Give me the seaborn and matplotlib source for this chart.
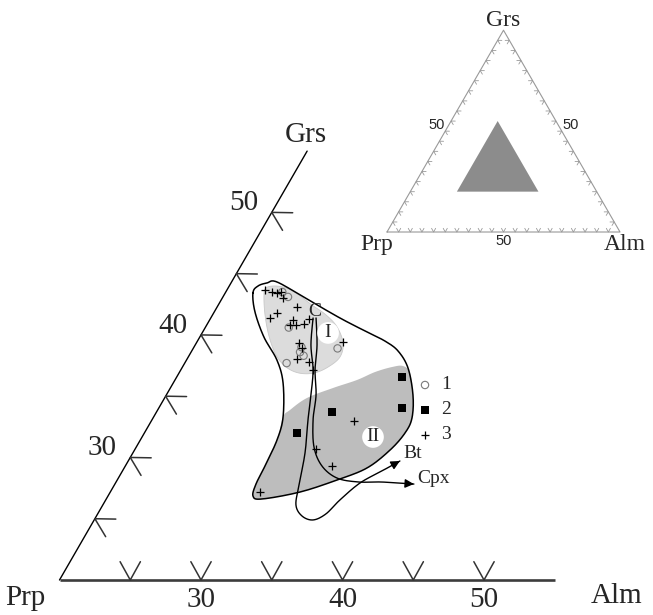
import numpy as np
import pandas as pd
import matplotlib
matplotlib.use("Agg")
import matplotlib.pyplot as plt
import seaborn as sns

# ---------------- garnet compositions (mol. %, Prp = 100 - Alm - Grs) ----------------
# 1: open circles
circle_alm = [24.6, 24.0, 25.9, 27.7, 28.1, 27.6, 27.2, 30.2]
circle_grs = [43.1, 43.5, 40.6, 38.6, 38.3, 39.0, 37.7, 38.9]
# 2: filled squares
square_alm = [35.9, 37.2, 32.4, 30.8]
square_grs = [36.6, 34.0, 33.7, 32.0]
# 3: crosses
cross_alm = [22.7, 23.3, 23.7, 23.9, 24.3, 25.6, 24.5, 24.2, 25.9, 25.9, 26.3, 26.8,
             27.0, 27.3, 27.7, 27.8, 28.7, 29.4, 30.3, 34.3, 32.8, 34.6, 30.6]
cross_grs = [43.7, 43.5, 43.4, 43.5, 43.0, 42.3, 41.8, 41.4, 41.2, 40.8, 40.8, 40.9,
             41.3, 39.3, 38.9, 38.0, 37.8, 37.1, 39.4, 33.0, 30.7, 29.3, 27.2]

# envelope of all analyses
env_alm = [21.96, 22.03, 22.54, 23.21, 26.02, 29.13, 31.61, 33.25, 34.58, 35.98, 37.43,
           38.30, 38.42, 38.06, 37.16, 35.53, 33.41, 31.00, 30.25, 29.97, 29.87, 29.66,
           29.15, 27.76, 26.39, 24.53, 22.88]
env_grs = [43.42, 43.99, 44.24, 44.32, 42.93, 41.38, 40.24, 39.50, 38.69, 37.30, 35.10,
           33.22, 32.00, 30.61, 29.14, 28.16, 27.18, 26.61, 26.85, 27.83, 29.30, 31.42,
           33.30, 36.08, 37.95, 39.83, 41.87]

# field I (core compositions)
field1_alm = [22.86, 22.67, 23.30, 24.35, 25.41, 26.62, 28.02, 29.29, 30.37, 30.72, 30.29,
              29.54, 28.48, 27.32, 26.12, 24.85, 23.71]
field1_grs = [43.18, 43.83, 43.99, 43.75, 43.18, 42.44, 41.63, 40.65, 39.34, 38.20, 37.38,
              36.89, 36.89, 37.38, 38.36, 39.91, 41.63]

# field II: upper boundary; the lower boundary follows the envelope
field2_top_alm = [29.35, 30.06, 31.50, 32.86, 33.81, 34.81, 35.55, 36.32]
field2_top_grs = [33.87, 34.85, 35.67, 36.32, 36.97, 37.38, 37.46, 36.89]

# zoning trends from core C towards Bt and Cpx contacts
bt_alm = [27.23, 28.18, 29.35, 30.22, 31.03, 32.17, 33.05, 33.65, 34.53, 35.47, 36.13,
          36.55, 37.28, 38.34, 39.20]
bt_grs = [41.38, 39.18, 37.14, 35.10, 33.06, 30.36, 27.75, 26.12, 25.22, 24.90, 25.39,
          26.53, 27.92, 28.90, 29.71]
cpx_alm = [27.44, 28.61, 29.49, 30.58, 31.39, 32.56, 33.90, 35.45, 37.10, 38.65, 39.89, 41.13]
cpx_grs = [41.38, 39.18, 37.14, 35.10, 33.06, 30.85, 29.30, 28.32, 28.00, 28.00, 27.92, 27.83]

# diagram window and axis ticks
window = [20, 55]
tick_values = [25, 30, 35, 40, 45, 50]
tick_labels = ["", "30", "", "40", "", "50"]
legend_labels = ["1", "2", "3"]

SIN60 = np.sqrt(3) / 2


def tern(alm, grs):
    alm = np.asarray(alm, float)
    grs = np.asarray(grs, float)
    return alm + 0.5 * grs, SIN60 * grs


def smooth(x, y, closed=False, n=14):
    pts = np.column_stack([x, y])
    if closed:
        P = np.vstack([pts[-1], pts, pts[0], pts[1]])
    else:
        P = np.vstack([pts[0], pts, pts[-1]])
    t = np.linspace(0, 1, n, endpoint=False)[:, None]
    out = []
    for i in range(1, len(P) - 2):
        p0, p1, p2, p3 = P[i - 1], P[i], P[i + 1], P[i + 2]
        out.append(0.5 * (2 * p1 + (-p0 + p2) * t + (2 * p0 - 5 * p1 + 4 * p2 - p3) * t ** 2
                          + (-p0 + 3 * p1 - 3 * p2 + p3) * t ** 3))
    out.append(P[-2][None, :])
    arr = np.vstack(out)
    return arr[:, 0], arr[:, 1]


def vtick(ax, x0, y0, rot, length, **kw):
    a1 = np.deg2rad(90 - 29 + rot)
    a2 = np.deg2rad(90 + 29 + rot)
    ax.plot([x0 + length * np.cos(a1), x0, x0 + length * np.cos(a2)],
            [y0 + length * np.sin(a1), y0, y0 + length * np.sin(a2)], **kw)


sns.set_style("white")
plt.rcParams["font.family"] = ["Liberation Serif", "DejaVu Serif"]

fig = plt.figure(figsize=(6.53, 6.15), dpi=100)
ax = fig.add_axes([0, 0, 1, 1])
ax.set_xlim(25.795, 71.943)
ax.set_ylim(14.847, 58.310)
ax.axis("off")


def px2data(xp, yp):
    return 25.795 + xp / 14.15, 58.310 - yp / 14.15


lo, hi = window
# axes of the triangle
bx, by = tern([lo, hi], [lo, lo])
ax.plot(bx, by, color="#3c3c3c", lw=1.9, solid_capstyle="butt", zorder=2)
lx, ly = tern([lo, lo], [lo, hi])
ax.plot(lx, ly, color="black", lw=1.0, zorder=2)

for v, lab in zip(tick_values, tick_labels):
    x0, y0 = tern(v, lo)
    vtick(ax, x0, y0, 0, 1.48, color="#333333", lw=1.1, zorder=2)
    if lab:
        ax.annotate(lab, (x0, y0), xytext=(0, -20), textcoords="offset pixels",
                    ha="center", va="center", fontsize=21)
    x0, y0 = tern(lo, v)
    vtick(ax, x0, y0, -120, 1.48, color="#333333", lw=1.1, zorder=2)
    if lab:
        ax.annotate(lab, (x0, y0), xytext=(-28, 9), textcoords="offset pixels",
                    ha="center", va="center", fontsize=21)

ax.annotate("Prp", tern(lo, lo), xytext=(-34, -18), textcoords="offset pixels",
            ha="center", va="center", fontsize=21)
ax.annotate("Alm", tern(hi, lo), xytext=(62, -16), textcoords="offset pixels",
            ha="center", va="center", fontsize=21)
ax.annotate("Grs", tern(lo, hi), xytext=(-1, 16), textcoords="offset pixels",
            ha="center", va="center", fontsize=21)

# composition fields
f2_alm = field2_top_alm + env_alm[10:23]
f2_grs = field2_top_grs + env_grs[10:23]
fx, fy = smooth(*tern(f2_alm, f2_grs), closed=True)
ax.fill(fx, fy, color="#bdbdbd", lw=0, zorder=1)

fx, fy = smooth(*tern(field1_alm, field1_grs), closed=True)
ax.fill(fx, fy, facecolor="#dcdcdc", edgecolor="#c8c8c8", lw=0.6, zorder=1)

ex, ey = smooth(*tern(env_alm, env_grs), closed=True)
ax.plot(ex, ey, color="black", lw=1.1, zorder=2)

# zoning trends
for a, g in ((bt_alm, bt_grs), (cpx_alm, cpx_grs)):
    tx, ty = smooth(*tern(a, g))
    ax.plot(tx, ty, color="black", lw=1.0, zorder=3)
    ax.annotate("", xy=(tx[-1], ty[-1]), xytext=(tx[-4], ty[-4]),
                arrowprops=dict(arrowstyle="-|>", color="black", lw=1.0,
                                mutation_scale=13, shrinkA=0, shrinkB=0), zorder=3)

# analyses
x, y = tern(circle_alm, circle_grs)
sns.scatterplot(data=pd.DataFrame({"X": x, "Y": y}), x="X", y="Y", ax=ax, marker="o", s=28,
                facecolor="none", edgecolor="#7a7a7a", linewidth=0.8, zorder=4, legend=False)
x, y = tern(square_alm, square_grs)
sns.scatterplot(data=pd.DataFrame({"X": x, "Y": y}), x="X", y="Y", ax=ax, marker="s", s=34,
                color="black", linewidth=0, zorder=4, legend=False)
x, y = tern(cross_alm, cross_grs)
sns.scatterplot(data=pd.DataFrame({"X": x, "Y": y}), x="X", y="Y", ax=ax, marker="+", s=40,
                color="black", linewidth=0.9, zorder=4, legend=False)

# labels inside the fields
ax.text(*tern(27.08, 41.95), "C", ha="center", va="center", fontsize=14, zorder=5)
ax.text(*tern(28.90, 40.16), "I", ha="center", va="center", fontsize=14, zorder=5,
        bbox=dict(boxstyle="circle,pad=0.12", fc="white", ec="none"))
ax.text(*tern(36.32, 31.67), "II", ha="center", va="center", fontsize=14, zorder=5,
        bbox=dict(boxstyle="circle,pad=0.12", fc="white", ec="none"))
ax.text(*tern(39.80, 30.36), "Bt", ha="center", va="center", fontsize=14, zorder=5)
ax.text(*tern(42.24, 28.32), "Cpx", ha="center", va="center", fontsize=14, zorder=5)

# legend
for i, (lab, mk) in enumerate(zip(legend_labels, ["o", "s", "+"])):
    yp = 385 + 25 * i
    mx, my = px2data(425, yp)
    if mk == "o":
        ax.scatter([mx], [my], marker="o", s=28, facecolor="none", edgecolor="#7a7a7a", lw=0.8)
    elif mk == "s":
        ax.scatter([mx], [my], marker="s", s=34, color="black", lw=0)
    else:
        ax.scatter([mx], [my], marker="+", s=40, color="black", lw=0.9)
    tx, ty = px2data(441, yp)
    ax.text(tx, ty, lab, ha="left", va="center", fontsize=14)

# ---------------- inset: position of the window in the full triangle ----------------
ins = fig.add_axes([340 / 653, (615 - 265) / 615, 313 / 653, 265 / 615])
ins.set_xlim(-20.17, 114.16)
ins.set_ylim(-14.16, 99.57)
ins.axis("off")

cx, cy = tern([0, 100, 0, 0], [0, 0, 100, 0])
ins.plot(cx, cy, color="#999999", lw=0.8)
for v in range(5, 100, 5):
    vtick(ins, *tern(v, 0), 0, 1.8, color="#999999", lw=0.6)
    vtick(ins, *tern(0, v), -120, 1.8, color="#999999", lw=0.6)
    vtick(ins, *tern(100 - v, v), 120, 1.8, color="#999999", lw=0.6)

wx, wy = tern([lo, hi, lo], [lo, lo, hi])
ins.fill(wx, wy, color="#8c8c8c", lw=0)

sans = ["Liberation Sans", "DejaVu Sans"]
ins.annotate("50", tern(50, 0), xytext=(0, -9), textcoords="offset pixels",
             ha="center", va="center", fontsize=10.5, family=sans)
ins.annotate("50", tern(0, 50), xytext=(-9, 6), textcoords="offset pixels",
             ha="center", va="center", fontsize=10.5, family=sans)
ins.annotate("50", tern(50, 50), xytext=(9, 6), textcoords="offset pixels",
             ha="center", va="center", fontsize=10.5, family=sans)
ins.annotate("Grs", tern(0, 100), xytext=(0, 10), textcoords="offset pixels",
             ha="center", va="center", fontsize=17)
ins.annotate("Prp", tern(0, 0), xytext=(-10, -12), textcoords="offset pixels",
             ha="center", va="center", fontsize=17)
ins.annotate("Alm", tern(100, 0), xytext=(5, -12), textcoords="offset pixels",
             ha="center", va="center", fontsize=17)

fig.savefig("out.png", dpi=100)
